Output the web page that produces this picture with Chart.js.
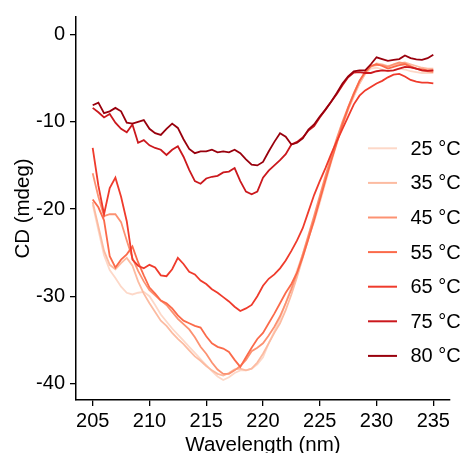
<!DOCTYPE html>
<html>
<head>
<meta charset="utf-8">
<script src="https://cdn.jsdelivr.net/npm/chart.js@4.4.1/dist/chart.umd.min.js"></script>
<style>
  html, body { margin: 0; padding: 0; background: #fff; }
  canvas { display: block; }
</style>
</head>
<body>
<canvas id="cdChart" width="463" height="453"></canvas>
<script>
// wavelengths (nm)
var wavelength = [205, 205.5, 206, 206.5, 207, 207.5, 208, 208.5, 209, 209.5,
  210, 210.5, 211, 211.5, 212, 212.5, 213, 213.5, 214, 214.5,
  215, 215.5, 216, 216.5, 217, 217.5, 218, 218.5, 219, 219.5,
  220, 220.5, 221, 221.5, 222, 222.5, 223, 223.5, 224, 224.5,
  225, 225.5, 226, 226.5, 227, 227.5, 228, 228.5, 229, 229.5,
  230, 230.5, 231, 231.5, 232, 232.5, 233, 233.5, 234, 234.5, 235];

// CD signal (mdeg) per temperature
var cd25 = [-19.5, -22.4, -25.3, -27.0, -27.9, -28.9, -29.6, -29.8, -29.6, -29.5,
  -30.0, -31.0, -32.1, -32.9, -33.7, -34.4, -35.1, -35.8, -36.5, -37.2,
  -37.9, -38.6, -39.2, -39.6, -39.3, -38.8, -38.5, -38.5, -38.3, -37.8,
  -37.0, -35.4, -34.0, -32.6, -30.8, -28.9, -27.0, -25.2, -23.3, -21.5,
  -19.3, -17.0, -14.7, -12.5, -10.4, -8.6, -7.1, -5.6, -4.5, -3.9,
  -3.8, -4.0, -4.2, -4.1, -3.9, -4.0, -4.2, -4.3, -4.4, -4.4, -4.4];
var cd35 = [-19.2, -22.0, -24.8, -26.4, -26.9, -26.2, -25.6, -26.5, -28.3, -29.7,
  -30.8, -31.8, -32.8, -33.4, -34.2, -34.9, -35.5, -36.2, -36.9, -37.4,
  -38.0, -38.5, -38.9, -39.1, -38.8, -38.4, -38.3, -38.5, -38.3, -37.6,
  -36.6, -35.4, -34.2, -33.1, -31.6, -29.8, -27.8, -25.6, -23.4, -21.2,
  -18.9, -16.6, -14.4, -12.3, -10.4, -8.6, -7.0, -5.6, -4.5, -3.7,
  -3.3, -3.4, -3.6, -3.5, -3.3, -3.2, -3.4, -3.6, -3.8, -3.9, -3.9];
var cd45 = [-15.9, -18.6, -20.8, -20.6, -20.6, -21.5, -23.6, -25.6, -27.1, -28.3,
  -29.3, -29.9, -30.5, -31.0, -31.8, -32.6, -33.2, -33.8, -34.7, -35.8,
  -36.6, -37.6, -38.4, -38.9, -38.9, -38.5, -38.0, -37.3, -36.3, -35.9,
  -35.4, -34.5, -33.5, -32.3, -30.8, -29.2, -27.3, -25.2, -23.0, -20.8,
  -18.5, -16.2, -14.0, -11.9, -10.0, -8.3, -6.7, -5.3, -4.3, -3.6,
  -3.5, -3.5, -3.7, -3.4, -3.2, -3.3, -3.6, -3.9, -4.1, -4.2, -4.3];
var cd55 = [-18.9, -19.8, -21.3, -25.4, -26.7, -25.8, -25.2, -24.3, -26.1, -27.6,
  -29.0, -29.7, -30.5, -30.8, -31.4, -32.2, -32.8, -33.1, -33.4, -33.6,
  -34.6, -35.4, -35.8, -36.0, -36.4, -37.3, -38.1, -37.0, -35.9, -34.9,
  -34.2, -33.1, -32.0, -30.8, -29.6, -28.6, -27.3, -25.5, -23.4, -21.3,
  -19.0, -16.7, -14.5, -12.4, -10.3, -8.4, -6.8, -5.3, -4.3, -3.6,
  -3.4, -3.6, -3.9, -3.7, -3.5, -3.4, -3.7, -3.9, -4.0, -4.1, -4.1];
var cd65 = [-13.0, -17.3, -20.6, -17.6, -16.4, -18.6, -21.4, -25.8, -26.5, -26.8,
  -26.4, -26.7, -27.6, -27.7, -26.9, -25.6, -26.3, -27.2, -27.5, -28.2,
  -28.6, -29.2, -29.6, -30.1, -30.6, -31.2, -31.7, -31.4, -31.0, -30.0,
  -28.8, -28.0, -27.5, -26.8, -25.9, -24.8, -23.6, -22.2, -20.3, -18.4,
  -16.8, -15.3, -13.7, -12.2, -10.8, -9.4, -8.0, -7.0, -6.4, -6.0,
  -5.6, -5.3, -4.9, -4.6, -4.5, -4.8, -5.2, -5.4, -5.5, -5.5, -5.6];
var cd75 = [-8.4, -8.9, -9.5, -9.1, -10.1, -10.8, -11.2, -10.3, -12.4, -12.1,
  -12.7, -13.0, -13.2, -13.8, -13.2, -12.8, -14.0, -15.5, -16.8, -17.1,
  -16.5, -16.3, -16.2, -15.8, -15.7, -15.3, -16.8, -18.0, -18.3, -18.0,
  -16.4, -15.6, -15.0, -14.4, -13.7, -12.6, -12.3, -11.8, -11.0, -10.5,
  -9.5, -8.6, -7.7, -6.8, -5.8, -4.9, -4.35, -4.3, -4.4, -4.4,
  -4.2, -4.1, -4.15, -4.1, -3.9, -3.7, -3.75, -3.9, -4.1, -4.15, -4.1];
var cd80 = [-8.1, -7.8, -9.0, -8.8, -8.4, -8.8, -10.1, -10.2, -10.0, -9.8,
  -10.8, -11.3, -11.5, -10.8, -10.2, -10.7, -12.0, -13.1, -13.6, -13.4,
  -13.4, -13.2, -13.5, -13.4, -13.5, -13.2, -13.6, -14.3, -14.9, -15.0,
  -14.6, -13.4, -12.3, -11.3, -11.7, -12.6, -12.4, -11.9, -10.9, -10.3,
  -9.4, -8.6, -7.7, -6.7, -5.6, -4.8, -4.2, -4.1, -4.1, -3.4,
  -2.6, -2.8, -3.0, -2.9, -2.8, -2.4, -2.7, -2.85, -2.9, -2.7, -2.3];

var seriesLabels = ['25 °C', '35 °C', '45 °C', '55 °C', '65 °C', '75 °C', '80 °C'];
var seriesValues = [cd25, cd35, cd45, cd55, cd65, cd75, cd80];
var seriesColors = ['#fdd8c8', '#fcbba1', '#fc9272', '#fb6a4a', '#ef3b2c', '#cb181d', '#99000d'];

var xTicks = [205, 210, 215, 220, 225, 230, 235];
var yTicks = [-40, -30, -20, -10, 0];

var fontFamily = '"Liberation Sans", Arial, sans-serif';

var datasets = [];
for (var i = 0; i < seriesValues.length; i++) {
  datasets.push({
    label: seriesLabels[i],
    data: wavelength.map(function (w, k) { return { x: w, y: seriesValues[i][k] }; }),
    borderColor: seriesColors[i],
    borderWidth: 1.8,
    pointRadius: 0,
    tension: 0,
    fill: false,
    order: seriesValues.length - i
  });
}

// legend drawn inside the panel, like the original
var insideLegend = {
  id: 'insideLegend',
  afterDraw: function (chart) {
    var ctx = chart.ctx;
    ctx.save();
    ctx.font = '20px ' + fontFamily;
    ctx.textBaseline = 'middle';
    ctx.textAlign = 'left';
    chart.data.datasets.forEach(function (ds, i) {
      var y = 148.3 + i * 34.6;
      ctx.strokeStyle = ds.borderColor;
      ctx.lineWidth = 2;
      ctx.beginPath();
      ctx.moveTo(368, y);
      ctx.lineTo(397, y);
      ctx.stroke();
      ctx.fillStyle = '#000';
      ctx.fillText(ds.label, 410.5, y + 1);
    });
    ctx.restore();
  }
};

new Chart(document.getElementById('cdChart'), {
  type: 'line',
  data: { datasets: datasets },
  plugins: [insideLegend],
  options: {
    responsive: false,
    animation: false,
    layout: { padding: { top: 15, right: 13, left: 0, bottom: 0 } },
    plugins: { legend: { display: false }, tooltip: { enabled: false } },
    scales: {
      x: {
        type: 'linear',
        min: 203.53,
        max: 236.47,
        afterBuildTicks: function (s) { s.ticks = xTicks.map(function (v) { return { value: v }; }); },
        afterFit: function (s) { s.height = 53; },
        grid: { drawOnChartArea: false, drawTicks: true, tickLength: 6, color: '#000', lineWidth: 1.3 },
        border: { display: true, color: '#000', width: 1.5 },
        ticks: { color: '#000', font: { family: fontFamily, size: 20 }, padding: 3, maxRotation: 0 },
        title: { display: true, text: 'Wavelength (nm)', color: '#000',
          font: { family: fontFamily, size: 20.5, lineHeight: 1 }, padding: { top: 0, bottom: -3 } }
      },
      y: {
        type: 'linear',
        min: -41.9,
        max: 2.02,
        afterBuildTicks: function (s) { s.ticks = yTicks.map(function (v) { return { value: v }; }); },
        afterFit: function (s) { s.width = 76; },
        grid: { drawOnChartArea: false, drawTicks: true, tickLength: 6, color: '#000', lineWidth: 1.3 },
        border: { display: true, color: '#000', width: 1.5 },
        ticks: { color: '#000', font: { family: fontFamily, size: 20 }, padding: 5 },
        title: { display: true, text: 'CD (mdeg)', color: '#000',
          font: { family: fontFamily, size: 20.5, lineHeight: 1 }, padding: { top: 13, bottom: 0 } }
      }
    }
  }
});
</script>
</body>
</html>
